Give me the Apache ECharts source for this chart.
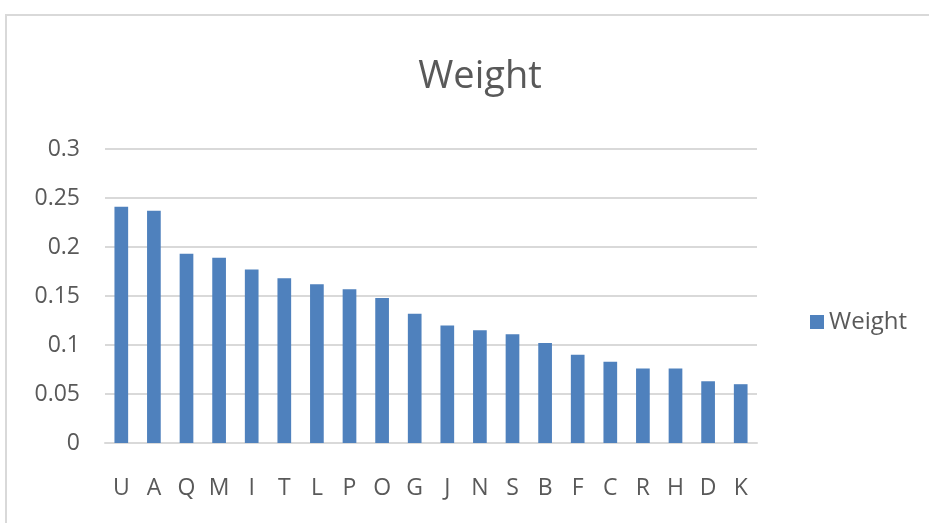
<!DOCTYPE html>
<html lang="en">
<head>
    <meta charset="UTF-8">
    <title>Weight</title>
    <script src="https://cdn.jsdelivr.net/npm/echarts@6.0.0/dist/echarts.min.js"></script>
    <style>
        html, body { margin: 0; padding: 0; background: #fff; }
        #chart { width: 929px; height: 523px; }
    </style>
</head>
<body>
    <div id="chart"></div>
    <script>
        // 数据
        var categories = ['U', 'A', 'Q', 'M', 'I', 'T', 'L', 'P', 'O', 'G', 'J', 'N', 'S', 'B', 'F', 'C', 'R', 'H', 'D', 'K'];
        var weights = [0.241, 0.237, 0.193, 0.189, 0.177, 0.168, 0.162, 0.157, 0.148, 0.132, 0.120, 0.115, 0.111, 0.102, 0.090, 0.083, 0.076, 0.076, 0.063, 0.060];
        var yTicks = [0, 0.05, 0.1, 0.15, 0.2, 0.25, 0.3];

        var font = '"Open Sans", "Liberation Sans", sans-serif';
        var textColor = '#595959';
        var barColor = '#4f81bd';

        var myChart = echarts.init(document.getElementById('chart'));

        var option = {
            backgroundColor: '#fff',
            animation: false,
            graphic: [
                {
                    type: 'rect',
                    shape: { x: 6, y: 15, width: 1000, height: 600 },
                    style: { fill: 'none', stroke: '#d9d9d9', lineWidth: 2 }
                }
            ],
            title: {
                text: 'Weight',
                left: 475,
                textAlign: 'center',
                top: 53,
                textStyle: {
                    fontFamily: font,
                    fontSize: 38,
                    fontWeight: 'normal',
                    color: textColor
                }
            },
            legend: {
                data: ['Weight'],
                orient: 'vertical',
                left: 805,
                top: 305,
                icon: 'rect',
                itemWidth: 14,
                itemHeight: 14,
                itemGap: 6,
                textStyle: {
                    fontFamily: font,
                    fontSize: 24,
                    color: textColor
                }
            },
            grid: {
                left: 105,
                right: 172,
                top: 149,
                bottom: 80,
                containLabel: false
            },
            xAxis: {
                type: 'category',
                data: categories,
                axisLine: { lineStyle: { color: '#d9d9d9', width: 2 } },
                axisTick: { show: false },
                axisLabel: {
                    margin: 34,
                    interval: 0,
                    fontFamily: font,
                    fontSize: 23,
                    color: textColor
                }
            },
            yAxis: {
                type: 'value',
                min: yTicks[0],
                max: yTicks[yTicks.length - 1],
                interval: 0.05,
                axisLine: { show: false },
                axisTick: { show: false },
                splitLine: { lineStyle: { color: '#d9d9d9', width: 2 } },
                axisLabel: {
                    margin: 25,
                    fontFamily: font,
                    fontSize: 23,
                    color: textColor,
                    formatter: function (v) {
                        return String(parseFloat(v.toFixed(2)));
                    }
                }
            },
            series: [
                {
                    name: 'Weight',
                    type: 'bar',
                    data: weights,
                    barWidth: '42%',
                    itemStyle: { color: barColor }
                }
            ]
        };

        myChart.setOption(option);
    </script>
</body>
</html>
